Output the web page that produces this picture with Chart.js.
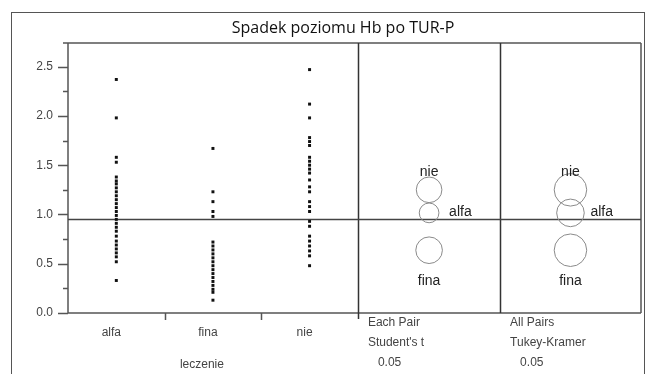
<!DOCTYPE html>
<html>
<head>
<meta charset="utf-8">
<script src="https://cdn.jsdelivr.net/npm/chart.js@4.4.1/dist/chart.umd.min.js"></script>
<style>
  html, body { margin: 0; padding: 0; background: #fff; }
  canvas { display: block; }
</style>
</head>
<body>
<canvas id="hbChart" width="645" height="374"></canvas>
<script>
// values
var categories = ['alfa', 'fina', 'nie'];
var alfaValues = [2.37, 1.98, 1.58, 1.53, 1.38, 1.34, 1.31, 1.27, 1.23, 1.19, 1.15, 1.11, 1.07,
    1.03, 0.99, 0.95, 0.91, 0.87, 0.83, 0.78, 0.73, 0.69, 0.65, 0.61, 0.57, 0.52, 0.33];
var finaValues = [1.67, 1.23, 1.13, 1.03, 0.98, 0.72, 0.68, 0.64, 0.60, 0.56, 0.52, 0.48,
    0.44, 0.40, 0.36, 0.32, 0.28, 0.24, 0.21, 0.13];
var nieValues = [2.47, 2.12, 1.98, 1.78, 1.74, 1.70, 1.58, 1.54, 1.50, 1.46, 1.42, 1.35, 1.28,
    1.23, 1.13, 1.08, 1.03, 0.93, 0.88, 0.78, 0.73, 0.68, 0.63, 0.58, 0.48];
var grandMean = 0.955;

var circleGroups = ['nie', 'alfa', 'fina'];
var circleCenters = [1.25, 1.016, 0.637];
var studentRadii = [0.13, 0.10, 0.135];
var tukeyRadii = [0.165, 0.14, 0.165];

var yTicks = [0, 0.5, 1.0, 1.5, 2.0, 2.5];
var yMinorTicks = [0.25, 0.75, 1.25, 1.75, 2.25];
var panelNotes = [
    ['Each Pair', "Student's t", '0.05'],
    ['All Pairs', 'Tukey-Kramer', '0.05']
];
var titleText = 'Spadek poziomu Hb po TUR-P';
var xAxisTitle = 'leczenie';

// where the two comparison panels sit on the x scale
var panelEdges = [2.5, 3.972];
var panelCenters = [3.237, 4.70];

var labelFont = '12px "Liberation Sans", Arial, sans-serif';
var circleFont = '14px "Liberation Sans", Arial, sans-serif';

function columnPoints(values, index) {
    return values.map(function (v) { return { x: index, y: v }; });
}

function circlePoints(panel) {
    return circleCenters.map(function (c) { return { x: panelCenters[panel], y: c }; });
}

function radiusFrom(radii) {
    return function (ctx) {
        var y = ctx.chart.scales.y;
        var r = radii[ctx.dataIndex];
        return Math.abs(y.getPixelForValue(0) - y.getPixelForValue(r));
    };
}

var dotStyle = {
    pointStyle: 'rect',
    pointRadius: 2.1,
    pointBorderWidth: 0,
    pointBackgroundColor: '#111',
    showLine: false
};

function dots(values, index) {
    return Object.assign({ data: columnPoints(values, index) }, dotStyle);
}

function circles(panel, radii) {
    return {
        data: circlePoints(panel),
        showLine: false,
        pointStyle: 'circle',
        pointRadius: radiusFrom(radii),
        pointBorderWidth: 1,
        pointBorderColor: '#8a8a8a',
        pointBackgroundColor: 'rgba(0,0,0,0)'
    };
}

var framePlugin = {
    id: 'frame',
    beforeDatasetsDraw: function (chart) {
        var ctx = chart.ctx;
        var a = chart.chartArea;
        var x = chart.scales.x;
        var y = chart.scales.y;
        ctx.save();

        // outer border
        ctx.strokeStyle = '#555';
        ctx.lineWidth = 1;
        ctx.strokeRect(11.5, 12.5, 633, 400);

        ctx.strokeStyle = '#555';
        ctx.lineWidth = 1.5;
        ctx.beginPath();
        ctx.moveTo(a.left - 5, a.top); ctx.lineTo(a.right, a.top);
        ctx.moveTo(a.left, a.top); ctx.lineTo(a.left, a.bottom);
        ctx.moveTo(a.left, a.bottom); ctx.lineTo(a.right, a.bottom);
        ctx.moveTo(a.right, a.top); ctx.lineTo(a.right, a.bottom);
        ctx.stroke();

        // panel dividers
        ctx.strokeStyle = '#333';
        ctx.beginPath();
        panelEdges.forEach(function (p, i) {
            var px = Math.round(x.getPixelForValue(p)) + 0.5;
            ctx.moveTo(px, a.top);
            ctx.lineTo(px, a.bottom + (i === 0 ? 6 : 0));
        });
        ctx.stroke();

        // x tick marks between categories
        ctx.strokeStyle = '#555';
        ctx.beginPath();
        [0.5, 1.5].forEach(function (p) {
            var px = Math.round(x.getPixelForValue(p)) + 0.5;
            ctx.moveTo(px, a.bottom);
            ctx.lineTo(px, a.bottom + 7);
        });
        // y ticks
        yTicks.forEach(function (v) {
            var py = Math.round(y.getPixelForValue(v)) + 0.5;
            ctx.moveTo(a.left - 10, py); ctx.lineTo(a.left, py);
        });
        yMinorTicks.forEach(function (v) {
            var py = Math.round(y.getPixelForValue(v)) + 0.5;
            ctx.moveTo(a.left - 5, py); ctx.lineTo(a.left, py);
        });
        ctx.stroke();

        // grand mean
        var my = Math.round(y.getPixelForValue(grandMean)) + 0.5;
        ctx.strokeStyle = '#444';
        ctx.beginPath();
        ctx.moveTo(a.left, my); ctx.lineTo(a.right, my);
        ctx.stroke();
        ctx.restore();
    },
    afterDraw: function (chart) {
        var ctx = chart.ctx;
        var x = chart.scales.x;
        var y = chart.scales.y;
        ctx.save();

        ctx.fillStyle = '#111';
        ctx.font = '16px "Open Sans", sans-serif';
        ctx.textAlign = 'center';
        ctx.textBaseline = 'middle';
        ctx.fillText(titleText, 343, 28);

        ctx.fillStyle = '#444';
        ctx.font = labelFont;
        ctx.fillText(xAxisTitle, x.getPixelForValue(1) - 11, 365);

        // notes under the comparison panels
        ctx.textAlign = 'left';
        panelNotes.forEach(function (lines, i) {
            var px = x.getPixelForValue(panelEdges[i]);
            ctx.fillText(lines[0], px + 10, 323);
            ctx.fillText(lines[1], px + 10, 343);
            ctx.fillText(lines[2], px + 20, 363);
        });

        // circle labels
        ctx.fillStyle = '#222';
        ctx.font = circleFont;
        panelCenters.forEach(function (c) {
            var cx = x.getPixelForValue(c);
            circleGroups.forEach(function (g, j) {
                var cy = y.getPixelForValue(circleCenters[j]);
                if (g === 'nie') {
                    ctx.textAlign = 'center';
                    ctx.fillText(g, cx, cy - 18);
                } else if (g === 'alfa') {
                    ctx.textAlign = 'left';
                    ctx.fillText(g, cx + 20, cy - 1);
                } else {
                    ctx.textAlign = 'center';
                    ctx.fillText(g, cx, cy + 31);
                }
            });
        });
        ctx.restore();
    }
};

var config = {
    type: 'scatter',
    data: {
        datasets: [
            dots(alfaValues, 0),
            dots(finaValues, 1),
            dots(nieValues, 2),
            circles(0, studentRadii),
            circles(1, tukeyRadii)
        ]
    },
    options: {
        responsive: false,
        animation: false,
        events: [],
        devicePixelRatio: 1,
        layout: { padding: { left: 0, top: 43, right: 4, bottom: 0 } },
        plugins: {
            legend: { display: false },
            tooltip: { enabled: false },
            title: { display: false }
        },
        scales: {
            x: {
                type: 'linear',
                min: -0.5,
                max: 5.43,
                grid: { display: false, drawTicks: false },
                border: { display: false },
                afterFit: function (s) { s.height = 61; },
                afterBuildTicks: function (s) {
                    s.ticks = categories.map(function (c, i) { return { value: i }; });
                },
                ticks: {
                    autoSkip: false,
                    maxRotation: 0,
                    padding: 12,
                    labelOffset: -5,
                    color: '#444',
                    font: { family: '"Liberation Sans", Arial, sans-serif', size: 12 },
                    callback: function (v) { return categories[v]; }
                }
            },
            y: {
                min: 0,
                max: 2.74,
                grid: { display: false, drawTicks: false },
                border: { display: false },
                afterFit: function (s) { s.width = 68; },
                afterBuildTicks: function (s) {
                    s.ticks = yTicks.map(function (v) { return { value: v }; });
                },
                ticks: {
                    padding: 15,
                    color: '#444',
                    font: { family: '"Liberation Sans", Arial, sans-serif', size: 12 },
                    callback: function (v) { return v.toFixed(1); }
                }
            }
        }
    },
    plugins: [framePlugin]
};

var hbChart = new Chart(document.getElementById('hbChart'), config);
</script>
</body>
</html>
